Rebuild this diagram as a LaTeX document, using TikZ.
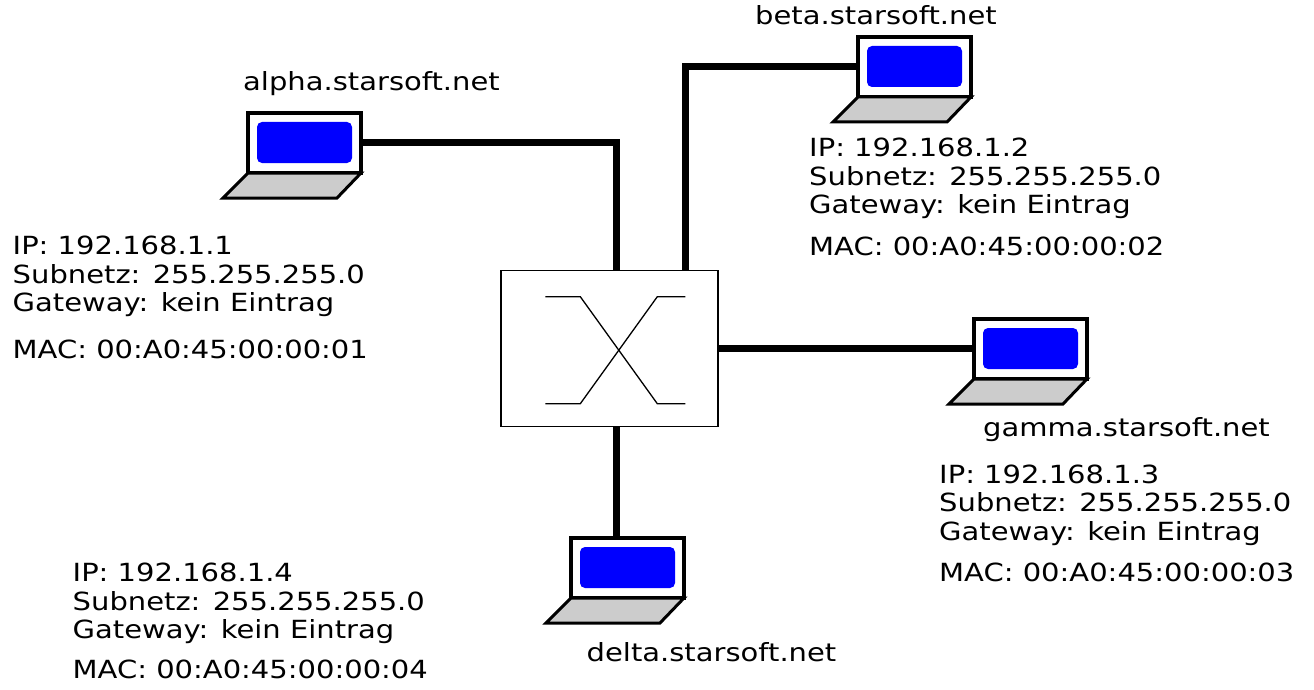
\documentclass[tikz,border=0pt]{standalone}
\usepackage{fontspec}
\setmainfont[FakeStretch=1.16]{DejaVu Sans}
\usepackage{xcolor}
\usetikzlibrary{positioning,calc}
\tikzset{
    link/.style ={line width=7pt, draw=black},
    SW/.style ={rectangle, minimum width=217pt, minimum height=156pt, draw=black, line width=1.5pt, fill=white},
    SCR/.style ={rectangle, minimum width=113pt, minimum height=60pt, draw=black, line width=3.3pt, inner sep=0pt},
    INFO/.style ={anchor=base west, inner sep=0pt, align=left, font=\fontsize{25}{28.3}\selectfont},
    HOST/.style ={anchor=base west, inner sep=0pt, font=\fontsize{25}{28.3}\selectfont}
}
\tikzset{
    laptop/.pic={
    \node[SCR] (-scr) at (56.5,30) {};
    \fill[blue, rounded corners=5pt] (9,9) rectangle (104,50);
    \filldraw[fill=gray!40, draw=black, line width=3pt, line join=miter] (0,60) -- (113,60) -- (89,85) -- (-25,85) -- cycle;
    }
}
\begin{document}
\begin{tikzpicture}[x=1pt,y=-1pt]
        \useasboundingbox (0,0) rectangle (1314,690);
        % switch
        \node[SW] (sw) at (609.3,348.7) {};
        \draw[line width=1.3pt] ([shift={(-64,-52)}]sw.center) -- ++(35,0) -- ++(77,107) -- ++(28,0);
        \draw[line width=1.3pt] ([shift={(-64,55)}]sw.center) -- ++(35,0) -- ++(77,-107) -- ++(28,0);
        % laptops
        \pic (alpha) at (248,113) {laptop};
        \pic (beta) at (858,37) {laptop};
        \pic (gamma) at (974,319) {laptop};
        \pic (delta) at (571,538) {laptop};
        % cables
        \draw[link] (alpha-scr.east) -| ([xshift=7.4]sw.north);
        \draw[link] ([xshift=76.4]sw.north) |- (beta-scr.west);
        \draw[link] (sw.east) -- (sw.east -| gamma-scr.west);
        \draw[link] ([xshift=7.4]sw.south) -- ([xshift=7.4]sw.south |- delta-scr.north);
        % host names
        \node[HOST] (alphaname) at (243,90.7) {alpha.starsoft.net};
        \node[HOST] (betaname) at (755,25) {beta.starsoft.net};
        \node[HOST] (gammaname) at (983,436.7) {gamma.starsoft.net};
        \node[HOST] (deltaname) at (586.5,661.7) {delta.starsoft.net};
        % settings (anchored at the baseline of the last line)
        \node[INFO] (alphainfo) at (12.5,311.3) {IP: 192.168.1.1\\Subnetz: 255.255.255.0\\Gateway: kein Eintrag};
        \node[INFO] (alphamac) at (12.5,358.3) {MAC: 00:A0:45:00:00:01};
        \node[INFO] (betainfo) at (809,213.3) {IP: 192.168.1.2\\Subnetz: 255.255.255.0\\Gateway: kein Eintrag};
        \node[INFO] (betamac) at (809,255) {MAC: 00:A0:45:00:00:02};
        \node[INFO] (gammainfo) at (939,540) {IP: 192.168.1.3\\Subnetz: 255.255.255.0\\Gateway: kein Eintrag};
        \node[INFO] (gammamac) at (939,581.7) {MAC: 00:A0:45:00:00:03};
        \node[INFO] (deltainfo) at (72.5,638.3) {IP: 192.168.1.4\\Subnetz: 255.255.255.0\\Gateway: kein Eintrag};
        \node[INFO] (deltamac) at (72.5,678.3) {MAC: 00:A0:45:00:00:04};
\end{tikzpicture}
\end{document}
